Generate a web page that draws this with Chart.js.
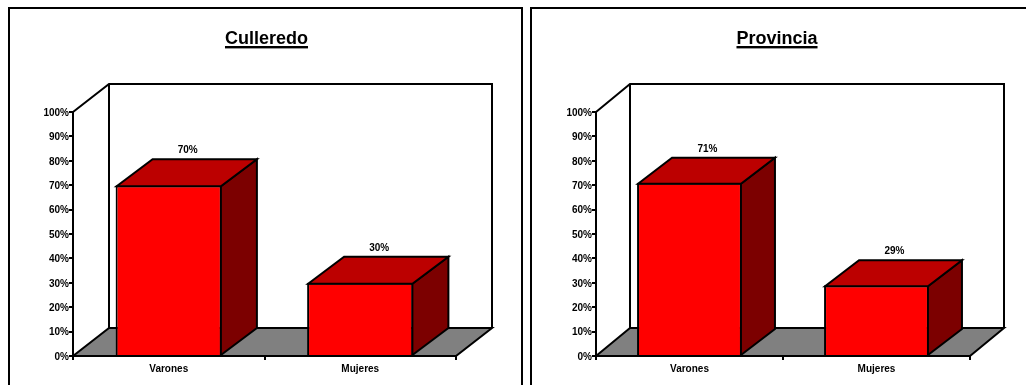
<!DOCTYPE html>
<html lang="es">
<head>
<meta charset="utf-8">
<title>Culleredo / Provincia</title>
<script src="https://cdn.jsdelivr.net/npm/chart.js@4"></script>
<style>
  html, body { margin: 0; padding: 0; width: 1026px; height: 385px; overflow: hidden; background: #fff; }
  .marco { position: absolute; top: 7px; height: 378px; border: 2px solid #000; border-bottom: none; box-sizing: border-box; }
  #marcoCulleredo { left: 8px; width: 515px; }
  #marcoProvincia { left: 530px; width: 510px; }
  canvas { position: absolute; top: 0; }
  #graficoCulleredo { left: 0; }
  #graficoProvincia { left: 528px; }
</style>
</head>
<body>
<div class="marco" id="marcoCulleredo"></div>
<div class="marco" id="marcoProvincia"></div>
<canvas id="graficoCulleredo" width="533" height="385"></canvas>
<canvas id="graficoProvincia" width="498" height="385"></canvas>

<script>
const categorias = ["Varones", "Mujeres"];
const valoresCulleredo = [70, 30];
const valoresProvincia = [71, 29];
const escalaMaxima = 100;
const pasoEscala = 10;

const FONTE = "'Liberation Sans', Arial, sans-serif";
const ROJO_FRENTE = "#ff0000";
const ROJO_TECHO = "#bc0000";
const ROJO_LADO = "#7c0000";
const GRIS_SUELO = "#808080";

function poligono(ctx, puntos, relleno) {
  ctx.beginPath();
  puntos.forEach(([x, y], i) => (i === 0 ? ctx.moveTo(x, y) : ctx.lineTo(x, y)));
  ctx.closePath();
  if (relleno) {
    ctx.fillStyle = relleno;
    ctx.fill();
  }
  ctx.stroke();
}

// Chart.js no tiene barras 3D: paredes, suelo y caras se dibujan desde las escalas
const caja3d = {
  id: "caja3d",
  beforeDatasetsDraw(chart, args, opts) {
    const { ctx, chartArea: a } = chart;
    const dx = opts.dx;
    const dy = opts.dy;

    ctx.save();
    ctx.strokeStyle = "#000";
    ctx.lineWidth = 2;
    ctx.lineJoin = "miter";

    poligono(ctx, [[a.left, a.bottom], [a.left + dx, a.bottom - dy], [a.right + dx, a.bottom - dy], [a.right, a.bottom]], GRIS_SUELO);

    ctx.beginPath();
    ctx.moveTo(a.left, a.top);
    ctx.lineTo(a.left + dx, a.top - dy);
    ctx.lineTo(a.right + dx, a.top - dy);
    ctx.lineTo(a.right + dx, a.bottom - dy);
    ctx.moveTo(a.left + dx, a.top - dy);
    ctx.lineTo(a.left + dx, a.bottom - dy);
    ctx.stroke();
    ctx.restore();
  },
  afterDatasetsDraw(chart, args, opts) {
    const { ctx } = chart;
    const dx = opts.dx;
    const dy = opts.dyBarra;
    const valores = chart.data.datasets[0].data;

    ctx.save();
    ctx.strokeStyle = "#000";
    ctx.lineWidth = 2;
    ctx.lineJoin = "miter";

    chart.getDatasetMeta(0).data.forEach((barra, i) => {
      const izq = barra.x - barra.width / 2 + 1;
      const der = barra.x + barra.width / 2 - 1;
      const arriba = barra.y + 1;
      const abajo = barra.base;

      poligono(ctx, [[der, arriba], [der + dx, arriba - dy], [der + dx, abajo - dy], [der, abajo]], ROJO_LADO);
      poligono(ctx, [[izq, arriba], [izq + dx, arriba - dy], [der + dx, arriba - dy], [der, arriba]], ROJO_TECHO);

      ctx.fillStyle = "#000";
      ctx.font = "bold 10px " + FONTE;
      ctx.textAlign = "center";
      ctx.textBaseline = "alphabetic";
      ctx.fillText(valores[i] + "%", barra.x + dx / 2 + 1, arriba - dy - 6);
    });

    // titulo subrayado, centrado en el marco y no en el area del grafico
    ctx.font = "bold 18px " + FONTE;
    ctx.textAlign = "center";
    ctx.fillStyle = "#000";
    ctx.fillText(opts.titulo, chart.width / 2, 44);
    const ancho = ctx.measureText(opts.titulo).width;
    ctx.fillRect(chart.width / 2 - ancho / 2, 46, ancho, 2.4);
    ctx.restore();
  }
};

function crearGrafico(id, nombre, valores, margenes, porcentajeBarra, dx, dyBarra) {
  return new Chart(document.getElementById(id), {
    type: "bar",
    data: {
      labels: categorias,
      datasets: [
        {
          data: valores,
          backgroundColor: ROJO_FRENTE,
          borderColor: "#000",
          borderWidth: 2,
          borderSkipped: "bottom",
          categoryPercentage: 1,
          barPercentage: porcentajeBarra
        }
      ]
    },
    options: {
      responsive: false,
      animation: false,
      layout: { padding: { left: 0, right: margenes.derecha, top: 112, bottom: 0 } },
      plugins: {
        legend: { display: false },
        tooltip: { enabled: false },
        caja3d: { dx: dx, dy: 28, dyBarra: dyBarra, titulo: nombre }
      },
      scales: {
        x: {
          afterFit: escala => { escala.height = 29; },
          border: { color: "#000", width: 2, z: 1 },
          grid: { drawOnChartArea: false, color: "#000", lineWidth: 2, tickLength: 4 },
          ticks: { color: "#000", padding: 3, maxRotation: 0, font: { family: FONTE, size: 10, weight: "bold" } }
        },
        y: {
          min: 0,
          max: escalaMaxima,
          afterFit: escala => { escala.width = margenes.izquierda; },
          border: { color: "#000", width: 2 },
          grid: { drawOnChartArea: false, color: "#000", lineWidth: 2, tickLength: 4 },
          ticks: {
            stepSize: pasoEscala,
            color: "#000",
            padding: 0,
            labelOffset: 1,
            font: { family: FONTE, size: 10, weight: "bold" },
            callback: valor => valor + "%"
          }
        }
      }
    },
    plugins: [caja3d]
  });
}

crearGrafico("graficoCulleredo", "Culleredo", valoresCulleredo, { izquierda: 73, derecha: 77 }, 0.555, 36, 27);
crearGrafico("graficoProvincia", "Provincia", valoresProvincia, { izquierda: 68, derecha: 56 }, 0.561, 34, 26);
</script>
</body>
</html>
